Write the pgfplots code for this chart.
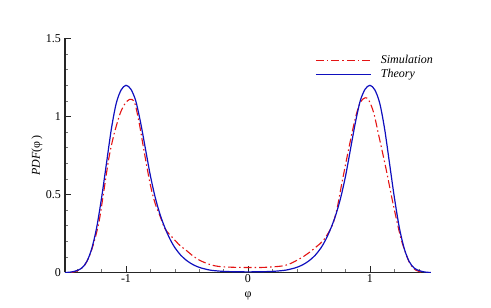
\documentclass[border=0pt]{standalone}
\usepackage{pgfplots}
\pgfplotsset{compat=1.18}
\usepackage{fontspec}
\setmainfont{Liberation Serif}
\definecolor{simred}{RGB}{228,20,20}
\definecolor{thblue}{RGB}{15,15,190}
\begin{document}
\fontsize{12}{14}\selectfont
\begin{tikzpicture}
\begin{axis}[
  scale only axis, width=366pt, height=234pt,
  xmin=-1.5, xmax=1.5, ymin=0, ymax=1.5,
  axis lines=left,
  axis line style={-, line width=1.1pt, black!85},
  xtick={-1,0,1}, ytick={0,0.5,1,1.5},
  minor xtick={-1.4,-1.2,-0.8,-0.6,-0.4,-0.2,0.2,0.4,0.6,0.8,1.2,1.4},
  minor ytick={0.1,0.2,0.3,0.4,0.6,0.7,0.8,0.9,1.1,1.2,1.3,1.4},
  tick align=inside,
  major tick length=6pt, minor tick length=3.5pt,
  major tick style={black!85, line width=0.9pt},
  minor tick style={black!55, line width=0.5pt},
  /pgf/number format/assume math mode=true,
  ticklabel style={font=\fontsize{12}{14}\selectfont},
  xticklabel style={inner sep=2pt},
  xlabel={φ},
  xlabel style={at={(axis description cs:0.5,-0.08)}, anchor=north, inner sep=0pt},
  ylabel={\textit{PDF}(φ\,)},
  ylabel style={at={(axis description cs:-0.0765,0.5)}, anchor=center, inner sep=0pt},
  legend style={draw=none, fill=none, at={(axis description cs:0.683,0.934)}, anchor=north west,
    inner sep=0pt, column sep=9pt, row sep=1pt, font=\itshape\fontsize{12}{14}\selectfont,
    nodes={inner sep=0.5pt, text height=9pt, text depth=3pt}},
  legend cell align=left,
]
\addplot[color=simred, line width=1.1pt, dash pattern=on 8pt off 3pt on 1.5pt off 3pt, smooth,
  legend image code/.code={\draw[simred, line width=1.1pt, dash pattern=on 8pt off 3pt on 1.5pt off 3pt] (0pt,0pt) -- (55pt,0pt);}] coordinates {
(-1.45,0) (-1.40,0.010) (-1.36,0.030) (-1.34,0.045) (-1.30,0.105) (-1.26,0.20) (-1.22,0.33)
(-1.18,0.53) (-1.14,0.735) (-1.10,0.88) (-1.05,1.015) (-1.01,1.08) (-0.97,1.11) (-0.93,1.09)
(-0.89,0.95) (-0.85,0.77) (-0.80,0.56) (-0.76,0.44) (-0.72,0.36) (-0.68,0.28) (-0.62,0.225)
(-0.56,0.175) (-0.50,0.138) (-0.45,0.105) (-0.40,0.080) (-0.35,0.062) (-0.30,0.048) (-0.25,0.040)
(-0.20,0.036) (-0.10,0.033) (0,0.032) (0.10,0.032) (0.20,0.036) (0.29,0.043) (0.35,0.058)
(0.40,0.078) (0.45,0.100) (0.51,0.133) (0.56,0.165) (0.62,0.208) (0.69,0.30) (0.73,0.41)
(0.77,0.575) (0.83,0.81) (0.88,0.99) (0.92,1.09) (0.96,1.12) (0.99,1.105) (1.03,1.025)
(1.07,0.885) (1.13,0.67) (1.18,0.475) (1.22,0.33) (1.26,0.20) (1.32,0.069) (1.37,0.018) (1.42,0.003)
};
\addlegendentry{Simulation}
\addplot[color=thblue, line width=1.2pt, smooth,
  legend image code/.code={\draw[thblue, line width=1.2pt] (0pt,0pt) -- (55pt,0pt);}] coordinates {
(-1.50,0) (-1.45,0.003) (-1.40,0.013) (-1.36,0.030) (-1.32,0.072) (-1.28,0.155) (-1.24,0.29)
(-1.20,0.48) (-1.16,0.70) (-1.12,0.92) (-1.08,1.085) (-1.04,1.17) (-1.00,1.20) (-0.96,1.175)
(-0.92,1.10) (-0.88,0.96) (-0.84,0.79) (-0.80,0.62) (-0.76,0.48) (-0.72,0.37) (-0.68,0.285)
(-0.64,0.215) (-0.60,0.16) (-0.55,0.11) (-0.50,0.075) (-0.45,0.05) (-0.40,0.033) (-0.35,0.022)
(-0.30,0.014) (-0.20,0.007) (-0.10,0.005) (0,0.004) (0.10,0.005) (0.20,0.007) (0.30,0.014)
(0.35,0.022) (0.40,0.033) (0.45,0.05) (0.50,0.075) (0.55,0.11) (0.60,0.16) (0.64,0.215)
(0.68,0.285) (0.72,0.37) (0.76,0.48) (0.80,0.62) (0.84,0.79) (0.88,0.96) (0.92,1.10)
(0.96,1.175) (1.00,1.20) (1.04,1.17) (1.08,1.085) (1.12,0.92) (1.16,0.70) (1.20,0.48)
(1.24,0.29) (1.28,0.155) (1.32,0.072) (1.36,0.030) (1.40,0.013) (1.45,0.003) (1.50,0)
};
\addlegendentry{Theory}
\end{axis}
\pgfresetboundingbox
\path[use as bounding box] (current axis.south west) ++(-65pt,-35.5pt) rectangle ++(491pt,308pt);
\end{tikzpicture}
\end{document}
